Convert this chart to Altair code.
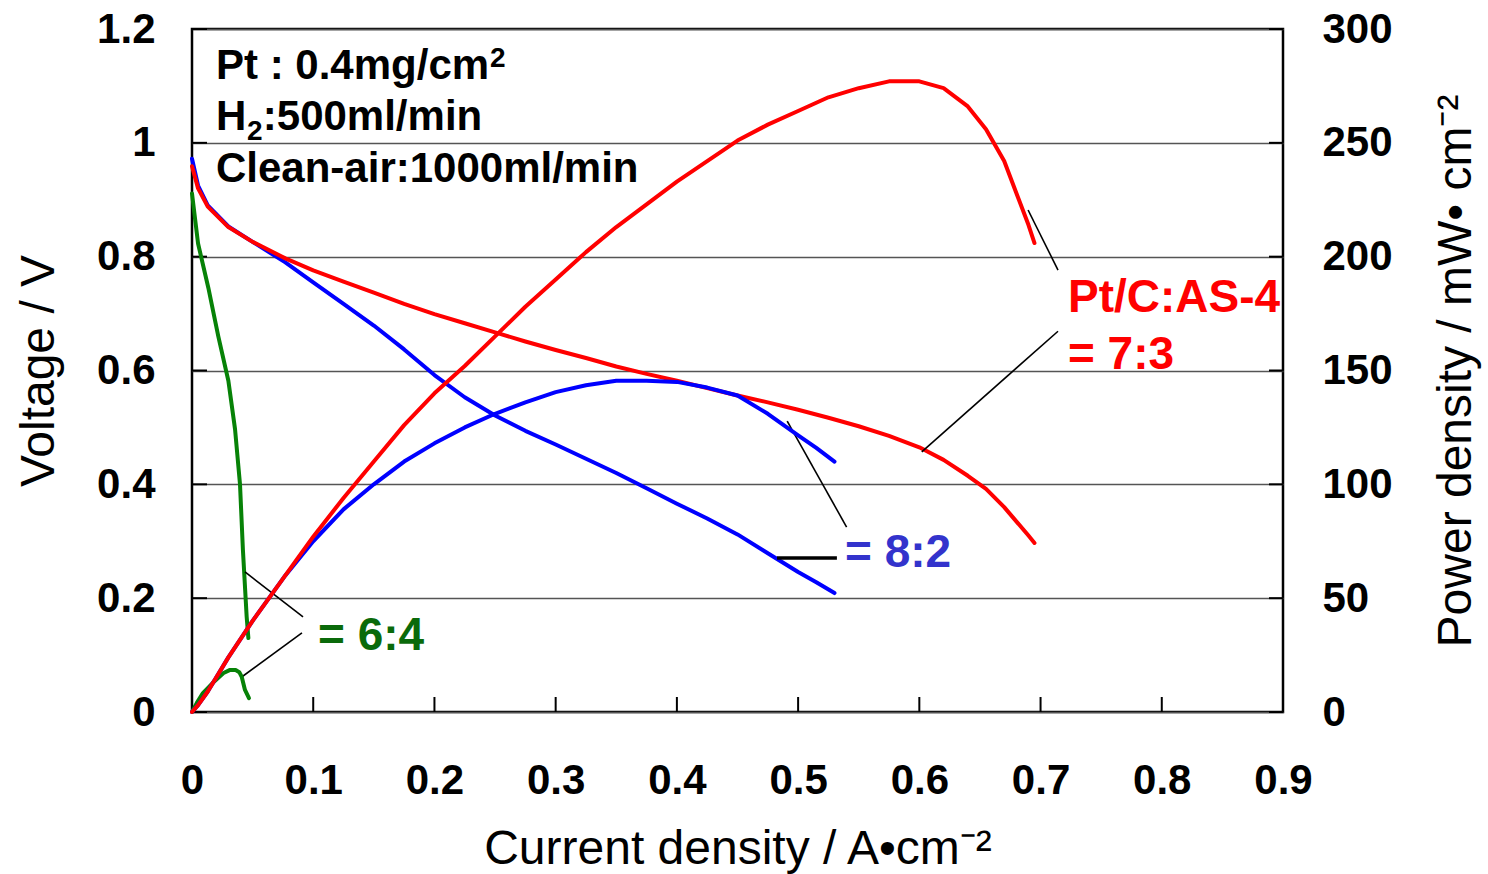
import altair as alt
import pandas as pd

# ---------------- data ----------------
# Pt/C:AS-4 = 7:3 (red)
red_I = [0, 0.005, 0.013, 0.03, 0.05, 0.077, 0.1, 0.125, 0.15, 0.175, 0.2, 0.225, 0.25, 0.275,
         0.3, 0.325, 0.35, 0.375, 0.4, 0.425, 0.45, 0.475, 0.5, 0.525, 0.55, 0.575, 0.6, 0.62,
         0.64, 0.655, 0.67, 0.68, 0.69, 0.695]
red_V = [0.959, 0.92, 0.888, 0.852, 0.826, 0.797, 0.776, 0.756, 0.737, 0.717, 0.699, 0.683, 0.667,
         0.651, 0.636, 0.622, 0.607, 0.594, 0.582, 0.569, 0.556, 0.544, 0.531, 0.517, 0.502, 0.485,
         0.465, 0.443, 0.415, 0.392, 0.36, 0.335, 0.31, 0.297]
red_P = [0, 3, 9, 24, 40, 60, 77, 94, 110, 126, 140, 152, 165, 178, 190, 202, 213, 223, 233, 242,
         251, 258, 264, 270, 274, 277, 277, 274, 266, 256, 242, 228, 214, 206]

# = 8:2 (blue)
blue_I = [0, 0.005, 0.013, 0.03, 0.05, 0.077, 0.1, 0.125, 0.15, 0.175, 0.2, 0.225, 0.25, 0.275,
          0.3, 0.325, 0.35, 0.375, 0.4, 0.425, 0.45, 0.475, 0.5, 0.515, 0.53]
blue_V = [0.972, 0.925, 0.89, 0.853, 0.826, 0.79, 0.755, 0.717, 0.679, 0.637, 0.592, 0.553, 0.521,
          0.494, 0.47, 0.445, 0.42, 0.393, 0.366, 0.340, 0.312, 0.279, 0.246, 0.228, 0.209]
blue_P = [0, 3, 9, 24, 40, 60, 75, 89, 100, 110, 118, 125, 131, 136, 140.5, 143.5, 145.5, 145.5,
          145, 142.5, 139, 131, 121.5, 116, 110]

# = 6:4 (green)
green_VI = [0, 0.005, 0.0135, 0.0217, 0.030, 0.0355, 0.0396, 0.042, 0.0451, 0.0465]
green_V = [0.911, 0.823, 0.745, 0.66, 0.582, 0.497, 0.40, 0.285, 0.167, 0.13]
green_PI = [0, 0.004, 0.009, 0.017, 0.026, 0.031, 0.036, 0.039, 0.041, 0.0437, 0.047]
green_P = [0, 4, 8.3, 12.7, 17.1, 18.4, 18.4, 17.5, 15.5, 9.7, 6.1]

x_ticks = [0, 0.1, 0.2, 0.3, 0.4, 0.5, 0.6, 0.7, 0.8, 0.9]
v_ticks = [0, 0.2, 0.4, 0.6, 0.8, 1.0, 1.2]
p_ticks = [0, 50, 100, 150, 200, 250, 300]

# info block: main pieces and their small sub/superscript digits
info_text = ["Pt : 0.4mg/cm", "H", ":500ml/min", "Clean-air:1000ml/min"]
info_I = [0.0198, 0.0198, 0.0584, 0.0198]
info_V = [1.112, 1.0225, 1.0225, 0.931]
small_text = ["2", "2"]
small_I = [0.2458, 0.0454]
small_V = [1.133, 1.0045]

# annotations (label text, anchor in data units) and leader lines
lab_text = ["= 6:4", "= 8:2", "Pt/C:AS-4", "= 7:3"]
lab_I = [0.104, 0.5387, 0.7226, 0.7226]
lab_V = [0.109, 0.2547, 0.7027, 0.6026]
lab_color = ["#0a6a0a", "#3333cc", "#ff0000", "#ff0000"]

lead_I = [0.0437, 0.041, 0.491, 0.6897, 0.602]
lead_V = [0.246, 0.0615, 0.511, 0.882, 0.457]
lead_I2 = [0.0916, 0.0907, 0.540, 0.7144, 0.7144]
lead_V2 = [0.167, 0.139, 0.325, 0.7765, 0.669]
thick_I, thick_V, thick_I2, thick_V2 = [0.4826], [0.2706], [0.532], [0.2706]

# ---------------- chart ----------------
W, H = 1091, 683
FONT = "Liberation Sans"

x_enc = alt.X("I:Q",
              scale=alt.Scale(domain=[0, 0.9], nice=False, zero=False),
              axis=alt.Axis(values=x_ticks, format=".1~f", title="Current density / A•cm⁻²",
                            ticks=False, tickSize=0, domain=False, grid=False, labelFlush=False,
                            labelFont=FONT, labelFontSize=42, labelFontWeight="bold",
                            labelColor="black", labelPadding=48,
                            titleFont=FONT, titleFontSize=48, titleFontWeight="normal",
                            titleColor="black", titlePadding=24))

yV_enc = alt.Y("val:Q",
               scale=alt.Scale(domain=[0, 1.2], nice=False, zero=False),
               axis=alt.Axis(values=v_ticks, format=".1~f", title="Voltage / V",
                             ticks=False, tickSize=0, domain=False, grid=True, labelFlush=False,
                             gridColor="#555555", gridWidth=1.3,
                             labelFont=FONT, labelFontSize=42, labelFontWeight="bold",
                             labelColor="black", labelPadding=37,
                             titleFont=FONT, titleFontSize=48, titleFontWeight="normal",
                             titleColor="black", titlePadding=33))

yP_enc = alt.Y("val:Q",
               scale=alt.Scale(domain=[0, 300], nice=False, zero=False),
               axis=alt.Axis(orient="right", values=p_ticks, format="d",
                             title="Power density / mW• cm⁻²", labelFlush=False,
                             ticks=False, tickSize=0, domain=False, grid=False,
                             labelFont=FONT, labelFontSize=42, labelFontWeight="bold",
                             labelColor="black", labelPadding=39,
                             titleFont=FONT, titleFontSize=48, titleFontWeight="normal",
                             titleColor="black", titlePadding=40,
                             titleAngle=270, titleBaseline="top"))


def df(I, vals):
    return pd.DataFrame({"I": I, "val": vals})


def line(d, color, y_enc):
    return alt.Chart(d).mark_line(color=color, strokeWidth=4, strokeCap="round",
                                  strokeJoin="round").encode(x=x_enc, y=y_enc)


# inward ticks
left_ticks = alt.Chart(pd.DataFrame({"val": v_ticks})).mark_rule(color="black", strokeWidth=2).encode(
    y=yV_enc, x=alt.value(0), x2=alt.value(15))
right_ticks = alt.Chart(pd.DataFrame({"val": v_ticks})).mark_rule(color="black", strokeWidth=2).encode(
    y=yV_enc, x=alt.value(W - 14), x2=alt.value(W))
bottom_ticks = alt.Chart(pd.DataFrame({"I": x_ticks})).mark_rule(color="black", strokeWidth=2).encode(
    x=x_enc, y=alt.value(H - 15), y2=alt.value(H))

leaders = alt.Chart(pd.DataFrame({"I": lead_I, "val": lead_V, "I2": lead_I2, "val2": lead_V2})).mark_rule(
    color="black", strokeWidth=1.6).encode(x=x_enc, y=yV_enc, x2="I2:Q", y2="val2:Q")
thick_leader = alt.Chart(pd.DataFrame({"I": thick_I, "val": thick_V, "I2": thick_I2, "val2": thick_V2})).mark_rule(
    color="black", strokeWidth=3.5).encode(x=x_enc, y=yV_enc, x2="I2:Q", y2="val2:Q")

labels = alt.Chart(pd.DataFrame({"I": lab_I, "val": lab_V, "t": lab_text, "c": lab_color})).mark_text(
    align="left", baseline="alphabetic", font=FONT, fontSize=46, fontWeight="bold").encode(
    x=x_enc, y=yV_enc, text="t:N", color=alt.Color("c:N", scale=None, legend=None))

info = alt.Chart(pd.DataFrame({"I": info_I, "val": info_V, "t": info_text})).mark_text(
    align="left", baseline="alphabetic", font=FONT, fontSize=42, fontWeight="bold", color="black").encode(
    x=x_enc, y=yV_enc, text="t:N")

info_small = alt.Chart(pd.DataFrame({"I": small_I, "val": small_V, "t": small_text})).mark_text(
    align="left", baseline="alphabetic", font=FONT, fontSize=28, fontWeight="bold", color="black").encode(
    x=x_enc, y=yV_enc, text="t:N")

v_layer = alt.layer(
    left_ticks, right_ticks, bottom_ticks,
    line(df(green_VI, green_V), "#078207", yV_enc),
    line(df(blue_I, blue_V), "#0000ff", yV_enc),
    line(df(red_I, red_V), "#ff0000", yV_enc),
    leaders, thick_leader, labels, info, info_small,
)

p_layer = alt.layer(
    line(df(green_PI, green_P), "#078207", yP_enc),
    line(df(blue_I, blue_P), "#0000ff", yP_enc),
    line(df(red_I, red_P), "#ff0000", yP_enc),
)

chart = alt.layer(v_layer, p_layer).resolve_scale(y="independent").properties(
    width=W, height=H,
    padding={"left": 192, "top": 29, "right": 205, "bottom": 162},
    autosize=alt.AutoSizeParams(type="none"),
    background="white",
).configure_view(stroke="black", strokeWidth=2.5)

chart.save("out.html", embed_options={"renderer": "svg", "actions": False})
